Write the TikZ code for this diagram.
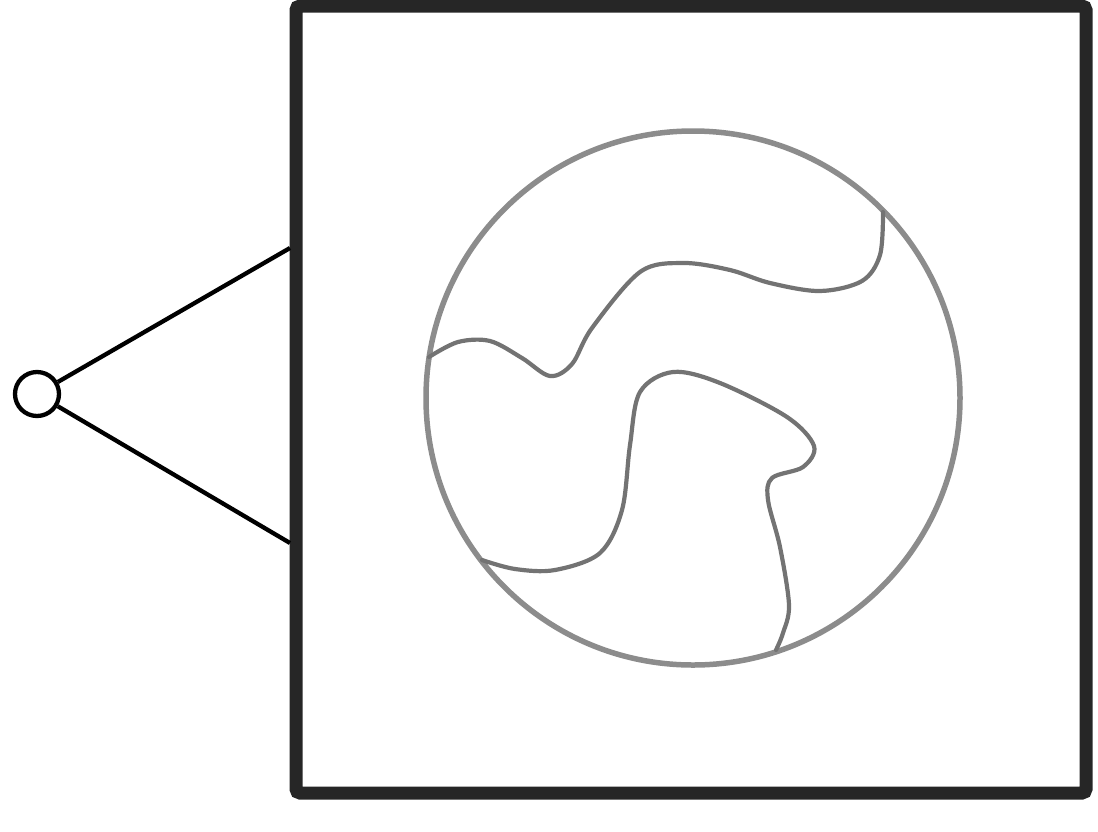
\documentclass[tikz,border=0pt]{standalone}
\begin{document}
\begin{tikzpicture}[x=1pt,y=-1pt,
  framebox/.style={draw=black!85, line width=13pt, rounded corners=4pt, minimum width=790pt, minimum height=787pt, inner sep=0pt},
  hub/.style={draw=black, line width=4.3pt, circle, minimum size=44pt, inner sep=0pt},
  link/.style={draw=black, line width=4.3pt},
  ring/.style={draw=black!45, line width=5.5pt, circle, minimum size=534pt, inner sep=0pt},
  wave/.style={draw=black!55, line width=4.2pt, line join=round, line cap=round}]
\useasboundingbox (0,0) rectangle (1098,831);
\node[framebox] (frame) at (691,399.5) {};
\node[hub] (hub) at (37,394) {};
\coordinate (ftop) at (290,248);
\coordinate (fbot) at (290,543);
\draw[link] (hub) -- (ftop);
\draw[link] (hub) -- (fbot);
\node[ring] (ring) at (693,398) {};
\draw[wave] plot[smooth, tension=0.55] coordinates {(429,357) (458,342) (490,341) (522,358) (550,376) (572,364) (592,328) (640,272) (683,263) (730,270) (770,283) (820,291) (862,281) (880,255) (883,212)};
\draw[wave] plot[smooth, tension=0.55] coordinates {(482,560) (515,569) (555,570) (600,553) (622,510) (630,445) (640,392) (673,372) (720,383) (787,417) (814,446) (803,467) (772,478) (768,500) (780,547) (789,605) (783,633) (776,650)};
\end{tikzpicture}
\end{document}
